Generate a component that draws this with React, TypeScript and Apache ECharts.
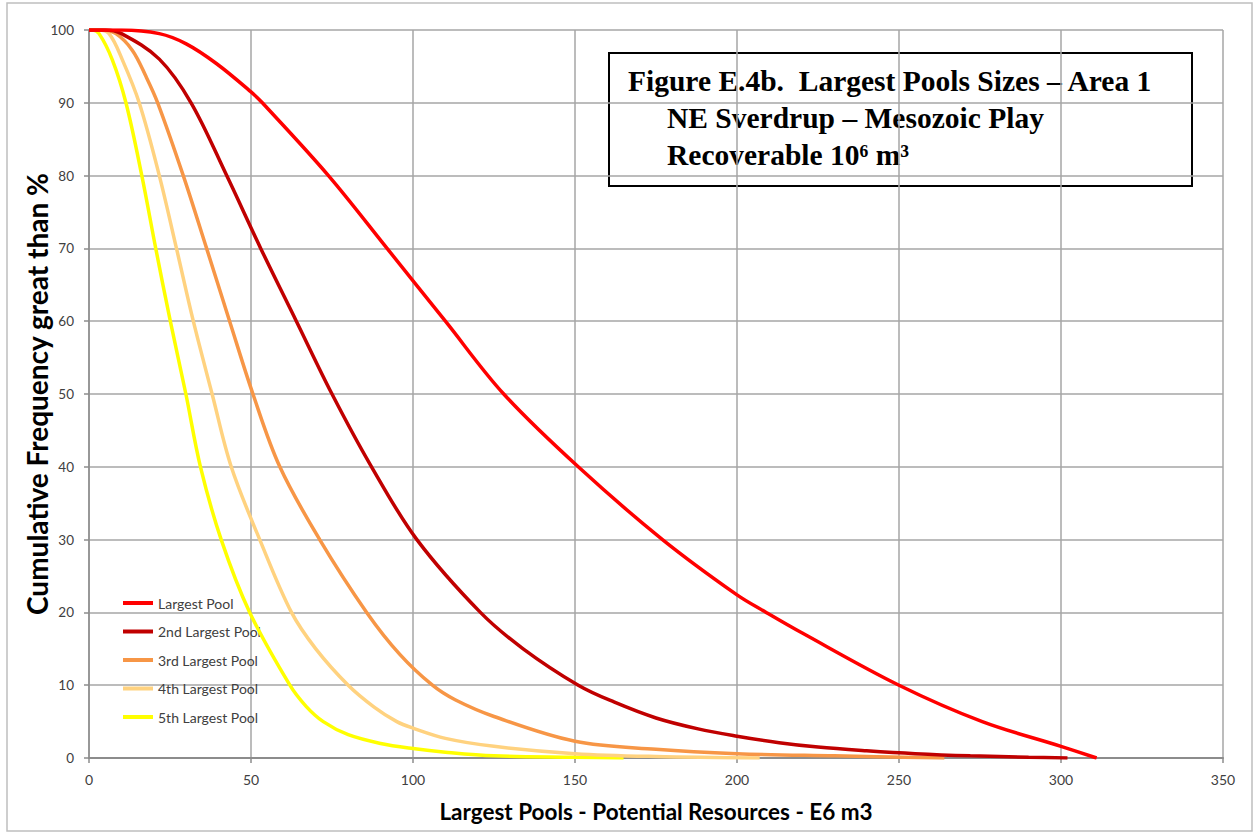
import React, { useEffect, useRef } from "react";
import * as echarts from "echarts";

const seriesNames = ["Largest Pool", "2nd Largest Pool", "3rd Largest Pool", "4th Largest Pool", "5th Largest Pool"];
const seriesColors = ["#FF0000", "#C00000", "#F79646", "#FFD27F", "#FFFF00"];

const largest: number[][] = [
  [0, 100], [10, 100], [21.7, 99.5], [30, 98.1], [39.3, 95.4], [50, 91.5], [53.5, 90], [73.9, 80], [92, 70],
  [110, 60], [128, 50], [151, 40], [177, 30], [200, 22.4], [209, 20], [220, 17.2], [250, 10], [275.7, 5],
  [300, 1.6], [311, 0],
];
const second: number[][] = [
  [0, 100], [5, 100], [10, 99.5], [21.7, 96], [31.5, 90], [42.5, 80], [53, 70], [64, 60],
  [75, 50], [87.2, 40], [101.2, 30], [120.8, 20], [134, 15], [151, 10], [162, 7.7], [175, 5.5], [188, 4],
  [200, 3], [213, 2.1], [225, 1.5], [240, 1], [255, 0.6], [272, 0.3], [290, 0.1], [302, 0],
];
const third: number[][] = [
  [0, 100], [4, 100], [8.3, 99.5], [13.4, 97.2], [17.6, 93.6], [21.2, 90], [29.1, 80], [36.3, 70], [43.4, 60],
  [50.6, 50], [58.9, 40], [71.2, 30], [85.7, 20], [96, 14.2], [106, 10], [113, 8], [125, 5.7],
  [150, 2.3], [175, 1.2], [200, 0.6], [230, 0.3], [264, 0],
];
const fourth: number[][] = [
  [0, 100], [3, 100], [6.2, 99.5], [10.3, 95.9], [15.5, 90], [21.7, 80], [27, 70], [32.2, 60], [38, 50],
  [43.9, 40], [52.7, 30], [62.5, 20], [70, 15], [80, 10], [88, 7], [95, 5], [100, 4.1], [110, 2.7], [125, 1.6],
  [150, 0.6], [175, 0.2], [207, 0],
];
const fifth: number[][] = [
  [0, 100], [1, 100], [3.1, 99.5], [7.2, 95.9], [11.4, 90], [16.3, 80], [20.6, 70], [25.1, 60], [29.9, 50],
  [34.4, 40], [40.8, 30], [49.6, 20], [62, 10], [67, 7.1], [72.3, 5], [80, 3.2], [90, 2], [100, 1.3], [110, 0.8],
  [125, 0.3], [150, 0.1], [165, 0],
];
const allData = [largest, second, third, fourth, fifth];

const xAxisTitle = "Largest Pools - Potential Resources - E6 m3";
const yAxisTitle = "Cumulative Frequency great than %";
const titleLines = ["Figure E.4b.  Largest Pools Sizes \u2013 Area 1", "NE Sverdrup \u2013 Mesozoic Play", "Recoverable 10\u2076 m\u00B3"];

export default function App() {
  const ref = useRef<HTMLDivElement>(null);
  useEffect(() => {
    document.body.style.margin = "0";
    const chart = echarts.init(ref.current!, null, { renderer: "svg" });
    const labelFont = "Lato, 'Open Sans', sans-serif";
    const titleFont = "bold 29.5px 'Liberation Serif', 'Times New Roman', serif";
    const textStyle = (t: string) => ({
      text: t,
      font: titleFont,
      fill: "#000",
      align: "left",
      verticalAlign: "middle",
      textAlign: "left",
      textVerticalAlign: "middle",
    });
    chart.setOption({
      animation: false,
      backgroundColor: "#FFFFFF",
      grid: { left: 89, right: 31, top: 30, bottom: 74 },
      xAxis: {
        type: "value",
        min: 0,
        max: 350,
        interval: 50,
        name: xAxisTitle,
        nameLocation: "middle",
        nameGap: 42,
        nameMoveOverlap: false,
        nameTextStyle: { fontFamily: labelFont, fontWeight: "bold", fontSize: 22.5, color: "#000" },
        axisLine: { show: true, lineStyle: { color: "#8C8C8C", width: 2 } },
        axisTick: { show: true, length: 5, lineStyle: { color: "#8C8C8C", width: 1.5 } },
        axisLabel: { margin: 14, fontFamily: labelFont, fontSize: 14, color: "#404040" },
        splitLine: { show: true, lineStyle: { color: "#A6A6A6", width: 1.5 } },
      },
      yAxis: {
        type: "value",
        min: 0,
        max: 100,
        interval: 10,
        name: yAxisTitle,
        nameLocation: "middle",
        nameGap: 38,
        nameMoveOverlap: false,
        nameTextStyle: { fontFamily: labelFont, fontWeight: "bold", fontSize: 28, color: "#000" },
        axisLine: { show: true, lineStyle: { color: "#8C8C8C", width: 1.5 } },
        axisTick: { show: true, length: 5, lineStyle: { color: "#8C8C8C", width: 1.5 } },
        axisLabel: { margin: 15, fontFamily: labelFont, fontSize: 13.5, color: "#404040" },
        splitLine: { show: true, lineStyle: { color: "#A6A6A6", width: 1.5 } },
      },
      legend: {
        orient: "vertical",
        left: 118,
        top: 589,
        itemWidth: 30,
        itemHeight: 4,
        itemGap: 10.5,
        icon: "rect",
        data: seriesNames,
        textStyle: { fontFamily: labelFont, fontSize: 14, lineHeight: 18, color: "#404040" },
      },
      series: seriesNames.map((name, i) => ({
        name,
        type: "line",
        data: allData[i],
        symbol: "none",
        smooth: 0.35,
        lineStyle: { color: seriesColors[i], width: 3.5 },
        itemStyle: { color: seriesColors[i] },
        z: 10 - i,
      })),
      graphic: [
        {
          type: "rect",
          silent: true,
          shape: { x: 7, y: 3, width: 1245, height: 828 },
          style: { fill: "none", stroke: "#BFBFBF", lineWidth: 1.5 },
          z: -1,
        },
        {
          type: "group",
          z: 100,
          children: [
            {
              type: "rect",
              shape: { x: 609, y: 53, width: 583, height: 133 },
              style: { fill: "#FFFFFF", stroke: "#000000", lineWidth: 2 },
            },
            { type: "text", x: 628, y: 81, style: textStyle(titleLines[0]) },
            { type: "text", x: 667, y: 118, style: textStyle(titleLines[1]) },
            { type: "text", x: 667, y: 155, style: textStyle(titleLines[2]) },
          ],
        },
      ],
    });
    return () => chart.dispose();
  }, []);
  return <div ref={ref} style={{ width: 1254, height: 832 }} />;
}
